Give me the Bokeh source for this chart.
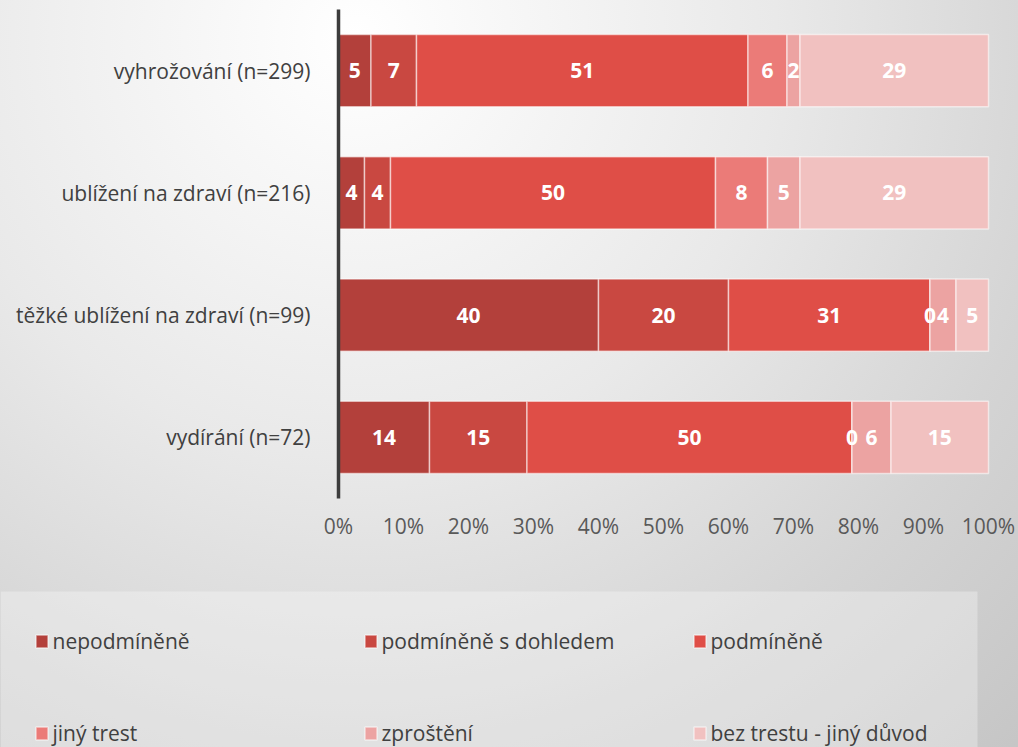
import numpy as np
import pandas as pd
from bokeh.plotting import figure
from bokeh.models import (ColumnDataSource, Legend, LegendItem, LinearAxis,
                          FixedTicker, PrintfTickFormatter, Range1d, BoxAnnotation)
from bokeh.core.properties import value
from bokeh.embed import file_html
from bokeh.resources import INLINE

# ---------------- data ----------------
categories = ["vyhrožování (n=299)", "ublížení na zdraví (n=216)",
              "těžké ublížení na zdraví (n=99)", "vydírání (n=72)"]
series_names = ["nepodmíněně", "podmíněně s dohledem", "podmíněně",
                "jiný trest", "zproštění", "bez trestu - jiný důvod"]
nepodminene = [5, 4, 40, 14]
podminene_s_dohledem = [7, 4, 20, 15]
podminene = [51, 50, 31, 50]
jiny_trest = [6, 8, 0, 0]
zprosteni = [2, 5, 4, 6]
bez_trestu = [29, 29, 5, 15]
x_ticks = [0, 10, 20, 30, 40, 50, 60, 70, 80, 90, 100]

colors = ["#b3403b", "#c94841", "#df4e47", "#eb7b78", "#eca3a2", "#f1c1c0"]
FONT = "Open Sans"

series_values = [nepodminene, podminene_s_dohledem, podminene,
                 jiny_trest, zprosteni, bez_trestu]
keys = [f"s{i}" for i in range(len(series_values))]

n_cat = len(categories)
ypos = [n_cat - 1 - i for i in range(n_cat)]      # first category on top

data = {"y": ypos}
for k, v in zip(keys, series_values):
    data[k] = v
src = ColumnDataSource(data)

# label positions (segment midpoints)
vals = np.array(series_values, dtype=float)
lefts = np.vstack([np.zeros(n_cat), np.cumsum(vals, axis=0)[:-1]])
mids = lefts + vals / 2
lab = pd.DataFrame({
    "x": mids.ravel(),
    "y": ypos * len(series_values),
    "t": [str(int(v)) for v in vals.ravel()],
})
lab_src = ColumnDataSource(lab)

# ---------------- figure (frame = whole canvas) ----------------
W, H = 1018, 747
PX_X = 6.5                 # px per percent
PX_Y = 122.25              # px per category band
x_lo = -338 / PX_X
x_hi = 100 + 30 / PX_X
y_hi = n_cat - 0.5 + 9 / PX_Y
y_lo = y_hi - H / PX_Y

p = figure(width=W, height=H,
           x_range=Range1d(x_lo, x_hi), y_range=Range1d(y_lo, y_hi),
           output_backend="svg", toolbar_location=None,
           x_axis_location=None, y_axis_location=None, min_border=0)
p.border_fill_alpha = 0
p.background_fill_alpha = 0
p.outline_line_color = None
p.xgrid.grid_line_color = None
p.ygrid.grid_line_color = None
p.styles = {"background": "radial-gradient(circle at 35% 5%, #ffffff 0px, "
                          "#e9e9e9 420px, #d4d4d4 720px, #c4c4c4 1000px)"}

# lighter legend panel
p.add_layout(BoxAnnotation(left=x_lo, right=x_lo + 977 / PX_X,
                           bottom=y_lo, top=y_hi - 591 / PX_Y,
                           fill_color="white", fill_alpha=0.3,
                           line_color=None, level="underlay"))

renderers = p.hbar_stack(keys, y="y", height=0.59, color=colors, source=src,
                         line_color="white", line_alpha=0.55, line_width=1.5)

p.text(x="x", y="y", text="t", source=lab_src,
       text_font=value(FONT), text_font_style="bold",
       text_font_size="21px", text_color="white",
       text_align="center", text_baseline="middle")

# y axis (category axis) fixed at x = 0
yax = LinearAxis(fixed_location=0, bounds=(-0.5, n_cat - 0.5),
                 ticker=FixedTicker(ticks=ypos),
                 major_label_overrides={y: c for y, c in zip(ypos, categories)})
yax.axis_line_width = 3.5
yax.axis_line_color = "#3c3c3c"
yax.major_tick_line_color = None
yax.minor_tick_line_color = None
yax.major_label_text_font = FONT
yax.major_label_text_font_size = "21px"
yax.major_label_text_color = "#404040"
yax.major_label_standoff = 22
p.add_layout(yax, "left")

# x axis (percent) fixed just under the bars
xax = LinearAxis(fixed_location=-0.5, ticker=FixedTicker(ticks=x_ticks),
                 formatter=PrintfTickFormatter(format="%d%%"))
xax.axis_line_color = None
xax.major_tick_line_color = None
xax.minor_tick_line_color = None
xax.major_label_text_font = FONT
xax.major_label_text_font_size = "21px"
xax.major_label_text_color = "#595959"
xax.major_label_standoff = 7
p.add_layout(xax, "below")

legend = Legend(items=[LegendItem(label=n, renderers=[r])
                       for n, r in zip(series_names, renderers)],
                orientation="horizontal", ncols=3,
                location=(33.5, 0),
                glyph_width=15, glyph_height=16, label_standoff=4,
                label_width=246, spacing=64, padding=0, margin=0,
                background_fill_alpha=0, border_line_color=None,
                label_text_font=FONT, label_text_font_size="21px",
                label_text_color="#404040")
p.add_layout(legend)

open("out.html", "w").write(file_html(p, INLINE))
